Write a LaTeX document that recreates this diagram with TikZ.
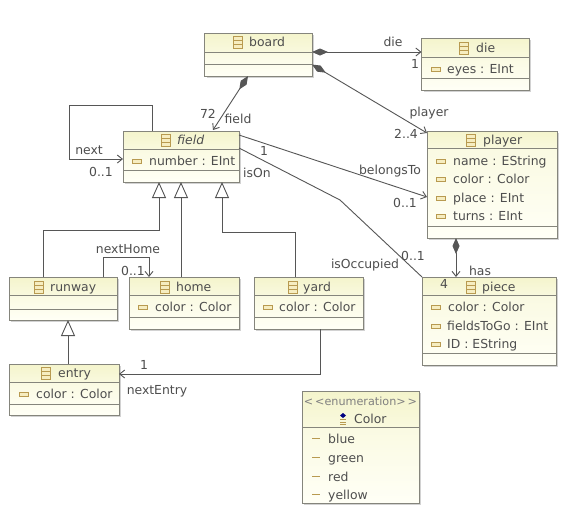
\documentclass[tikz,border=0pt]{standalone}
\usepackage{fontspec}
\setmainfont{DejaVu Sans}
\usetikzlibrary{arrows.meta,calc}
\definecolor{boxline}{HTML}{85857C}
\definecolor{headtop}{HTML}{F4F4CC}
\definecolor{headbot}{HTML}{F9F9DE}
\definecolor{bodytop}{HTML}{FAFAE2}
\definecolor{bodybot}{HTML}{FFFFF6}
\definecolor{shadowc}{HTML}{D2D2D2}
\definecolor{iconc}{HTML}{B89A50}
\definecolor{iconf}{HTML}{F6EDC0}
\definecolor{inkc}{HTML}{4E4E4E}
\definecolor{linec}{HTML}{565656}
\tikzset{
  x=1pt,y=-1pt,
  txt/.style={font=\fontsize{12.4}{15}\selectfont,text=inkc,inner sep=0pt,text height=9.5pt,text depth=0.5pt},
  lefttxt/.style={txt,anchor=west},
  conn/.style={draw=linec,line width=0.9pt},
  barb/.style={-{Straight Barb[length=5pt,width=8pt,line width=0.9pt]}},
  comp/.style={{Diamond[length=16pt,width=7pt,fill=linec]}-{Straight Barb[length=5pt,width=8pt,line width=0.9pt]}},
  inherit/.style={-{Triangle[open,length=16pt,width=14pt,fill=white,line width=0.9pt]}},
  umlbox/.style={draw=boxline,line width=0.9pt,fill=bodybot,inner sep=0pt,outer sep=0pt,rectangle},
}
\newcommand{\umlclass}[7]{%
  \fill[shadowc] (#2+2,#3+2) rectangle (#4+2,#5+2);
  \pgfmathsetmacro{\cxv}{(#2+#4)/2}\pgfmathsetmacro{\cyv}{(#3+#5)/2}
  \pgfmathsetmacro{\wv}{#4-#2}\pgfmathsetmacro{\hv}{#5-#3}
  \node[umlbox,minimum width=\wv pt,minimum height=\hv pt] (#1) at (\cxv,\cyv) {};
  \shade[top color=headtop,bottom color=headbot] (#2,#3) rectangle (#4,#6);
  \shade[top color=bodytop,bottom color=bodybot] (#2,#6) rectangle (#4,#5);
  \draw[boxline,line width=0.9pt] (#2,#6) -- (#4,#6);
  \draw[boxline,line width=0.9pt] (#2,#7) -- (#4,#7);
  \draw[boxline,line width=0.9pt] (#1.north west) rectangle (#1.south east);
}
\newcommand{\umltitle}[5]{%
  \draw[iconc,fill=iconf,line width=0.8pt] (#2,#3-6) rectangle (#2+9,#3+6);
  \draw[iconc,line width=0.7pt] (#2,#3-2) -- (#2+9,#3-2) (#2,#3+2) -- (#2+9,#3+2);
  \node[lefttxt] (#1) at (#4,#3) {#5};
}
\newcommand{\umlattr}[5]{%
  \draw[iconc,fill=iconf,line width=0.8pt] (#2,#3-2) rectangle (#2+9,#3+2);
  \node[lefttxt] (#1) at (#4,#3) {#5};
}
\newcommand{\umllit}[4]{%
  \draw[iconc,line width=1pt] (312,#2-1) -- (320,#2-1);
  \node[lefttxt] (#1) at (328,#2) {#4};
}
\begin{document}
\begin{tikzpicture}
\useasboundingbox (0,0) rectangle (574,520);
\fill[white] (0,0) rectangle (574,520);
% classes
\umlclass{board}{204.5}{33}{312}{76}{52}{64}
\umlclass{die}{421.5}{38}{529}{90}{57}{78}
\umlclass{player}{427}{131}{557}{238}{148}{226}
\umlclass{field}{123}{131}{239}{182}{149}{170}
\umlclass{runway}{9}{277}{117}{320}{295}{309}
\umlclass{home}{129}{277}{239}{329}{295}{317}
\umlclass{yard}{254}{277}{363}{329}{295}{317}
\umlclass{entry}{9}{364}{119}{415}{382}{404}
\umlclass{piece}{422}{277}{556}{365}{295}{353}
\umlclass{colorenum}{302}{391}{419}{503}{427}{427}
% titles
\umltitle{tBoard}{233}{42}{249}{board}
\umltitle{tDie}{459}{48}{476}{die}
\umltitle{tPlayer}{466}{140}{483}{player}
\umltitle{tField}{161}{140}{177}{\textit{field}}
\umltitle{tRunway}{34}{287}{50}{runway}
\umltitle{tHome}{160}{287}{176}{home}
\umltitle{tYard}{288}{287}{303}{yard}
\umltitle{tEntry}{41}{373}{58}{entry}
\umltitle{tPiece}{466}{287}{482}{piece}
% attributes
\umlattr{aEyes}{431}{69}{447}{eyes : EInt}
\umlattr{aName}{436}{161}{453}{name : EString}
\umlattr{aColor}{436}{179}{453}{color : Color}
\umlattr{aPlace}{436}{198}{453}{place : EInt}
\umlattr{aTurns}{436}{216}{453}{turns : EInt}
\umlattr{aNumber}{132}{161}{149}{number : EInt}
\umlattr{aHome}{138}{307}{155}{color : Color}
\umlattr{aYard}{263}{307}{279}{color : Color}
\umlattr{aEntry}{19}{394}{36}{color : Color}
\umlattr{aPieceC}{431}{307}{448}{color : Color}
\umlattr{aPieceF}{431}{326}{447}{fieldsToGo : EInt}
\umlattr{aPieceI}{431}{344}{447}{ID : EString}
% enumeration
\node[txt,font=\fontsize{11.2}{13}\selectfont,text=gray] (tStereo) at (360.5,401) {<\,<enumeration>\,>};
\fill[blue!50!black] (343,413) -- (346,415.5) -- (343,418) -- (340,415.5) -- cycle;
\draw[iconc,line width=0.8pt] (340,419.5) -- (346,419.5) (340,422) -- (346,422) (340,424.5) -- (346,424.5);
\node[lefttxt] (tColor) at (354,419) {Color};
\umllit{lBlue}{439}{}{blue}
\umllit{lGreen}{458}{}{green}
\umllit{lRed}{477}{}{red}
\umllit{lYellow}{495}{}{yellow}
% connectors
\draw[conn,comp] ($(board.south west)+(43.5,0)$) -- ($(field.north west)+(90,-1)$);
\draw[conn,comp] ($(board.north east)+(0,19)$) -- ($(die.north west)+(0,14)$);
\draw[conn,comp] ($(board.north east)+(0,31.5)$) -- ($(player.north west)+(0,2)$);
\draw[conn,barb] ($(field.north west)+(29,0)$) |- (69,105) |- ($(field.north west)+(0,28)$);
\draw[conn,barb] ($(field.north east)+(0,4)$) -- ($(player.north west)+(0,66)$);
\draw[conn] ($(field.north east)+(0,17)$) -- (340,200) -- (piece.north west);
\draw[conn,inherit] ($(runway.north west)+(34,0)$) |- (159,230) -- ($(field.south west)+(36,0)$);
\draw[conn,inherit] ($(home.north west)+(52,0)$) -- ($(field.south west)+(58,0)$);
\draw[conn,inherit] ($(yard.north west)+(41,0)$) |- (222,232) -- ($(field.south west)+(99,0)$);
\draw[conn,inherit] ($(entry.north west)+(59,0)$) -- ($(runway.south west)+(59,0)$);
\draw[conn,barb] ($(runway.north west)+(94,0)$) |- (149,257) -- ($(home.north west)+(20,0)$);
\draw[conn,barb] ($(yard.south west)+(66,0)$) |- ($(entry.north east)+(0,10)$);
\draw[conn,comp] ($(player.south west)+(29,0)$) -- ($(piece.north west)+(34,0)$);
% labels
\node[txt] (l72) at (208,114) {72};
\node[txt] (lField) at (238,119) {field};
\node[txt] (lNext) at (89,150) {next};
\node[txt] (lNext01) at (101,172) {0..1};
\node[txt] (lNextHome) at (128,249) {nextHome};
\node[txt] (lHome01) at (133,271) {0..1};
\node[txt] (lEntry1) at (144,365) {1};
\node[txt] (lNextEntry) at (157,390) {nextEntry};
\node[txt] (lDie) at (393,42) {die};
\node[txt] (lDie1) at (415,64) {1};
\node[txt] (lPlayer) at (429,112) {player};
\node[txt] (lPlayer24) at (406,134) {2..4};
\node[txt] (lBelongs) at (390,170) {belongsTo};
\node[txt] (lBelongs01) at (405,203) {0..1};
\node[txt] (lOn1) at (264,151) {1};
\node[txt] (lIsOn) at (257,173) {isOn};
\node[txt] (lIsOcc) at (365,264) {isOccupied};
\node[txt] (lOcc01) at (413,256) {0..1};
\node[txt] (lHas) at (480,271) {has};
\node[txt] (lHas4) at (444,284) {4};
\end{tikzpicture}
\end{document}
